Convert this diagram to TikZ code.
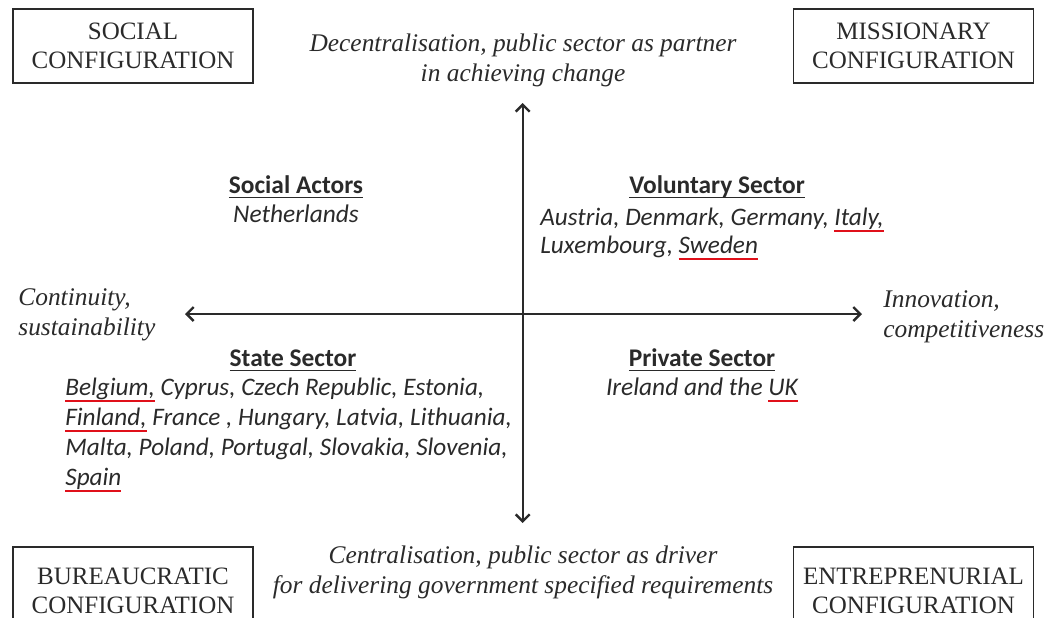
\documentclass[tikz,border=0pt]{standalone}
\usepackage{fontspec}
\setmainfont{Liberation Serif}
\newfontfamily\calfont{Carlito}
\usetikzlibrary{arrows.meta}
\definecolor{ulred}{HTML}{E0101A}
\definecolor{ink}{HTML}{2A2A2A}
\newcommand\redul[1]{\setbox0\hbox{#1}\rlap{\color{ulred}\rule[-3.6pt]{\wd0}{1.3pt}}\box0\relax}
\newcommand\blkul[1]{\setbox0\hbox{#1}\rlap{\rule[-2.6pt]{\wd0}{0.7pt}}\box0\relax}
\begin{document}
\begin{tikzpicture}[x=0.5pt,y=-0.5pt,
  config/.style={draw=ink, line width=0.8pt, minimum width=120pt, minimum height=37pt,
    align=center, inner sep=0pt, text=ink, font=\fontsize{12.5}{14.5}\selectfont},
  ital/.style={inner sep=0pt, text=ink, font=\fontsize{12.7}{15}\selectfont\itshape},
  sans/.style={inner sep=0pt, text=ink, font=\calfont\fontsize{12.7}{14.5}\selectfont},
  sansit/.style={inner sep=0pt, text=ink, font=\calfont\fontsize{12.6}{#1}\selectfont\itshape},
  axis/.style={draw=ink, line width=0.9pt, {Straight Barb[length=3.5pt,width=7pt,line width=1.2pt]}-{Straight Barb[length=3.5pt,width=7pt,line width=1.2pt]}}]
\useasboundingbox (0,0) rectangle (1056,617);
\clip (0,0) rectangle (1056,617);
% configuration boxes
\node[config] (social) at (133,46) {SOCIAL\\CONFIGURATION};
\node[config] (missionary) at (913.5,46) {MISSIONARY\\CONFIGURATION};
\node[config, minimum height=44pt] (bureau) at (133,591) {BUREAUCRATIC\\CONFIGURATION};
\node[config, minimum height=44pt] (entre) at (913.5,591) {ENTREPRENURIAL\\CONFIGURATION};
% axis labels (base anchor = last line)
\node[ital, anchor=base, align=center] (dec) at (523,81) {Decentralisation, public sector as partner\\in achieving change};
\node[ital, anchor=base, align=center] (cen) at (523,593) {Centralisation, public sector as driver\\for delivering government specified requirements};
\node[ital, anchor=base west, align=left] (cont) at (18,335) {Continuity,\\sustainability};
\node[ital, anchor=base west, align=left] (inno) at (883,337) {Innovation,\\competitiveness};
% axes
\coordinate (ntop) at (522.7,103);
\coordinate (nbot) at (522.7,523);
\coordinate (wl) at (185,314);
\coordinate (er) at (862,314);
\draw[axis] (nbot) -- (ntop);
\draw[axis] (wl) -- (er);
% quadrants
\node[sans, anchor=base, align=center] (sa) at (296,222) {\textbf{\blkul{Social Actors}}\\\textit{Netherlands}};
\node[sans, anchor=base] (vol) at (717,193) {\textbf{\blkul{Voluntary Sector}}};
\node[sansit=14pt, anchor=base west, align=left] (volc) at (540,253) {Austria, Denmark, Germany, \redul{Italy,}\\Luxembourg, \redul{Sweden}};
\node[sans, anchor=base] (state) at (293,366) {\textbf{\blkul{State Sector}}};
\node[sansit=15pt, anchor=base west, align=left] (statec) at (65,485) {\redul{Belgium,} Cyprus, Czech Republic, Estonia,\\\redul{Finland,} France , Hungary, Latvia, Lithuania,\\Malta, Poland, Portugal, Slovakia, Slovenia,\\\redul{Spain}};
\node[sans, anchor=base, align=center] (priv) at (702,395) {\textbf{\blkul{Private Sector}}\\\textit{Ireland and the \redul{UK}}};
\end{tikzpicture}
\end{document}
